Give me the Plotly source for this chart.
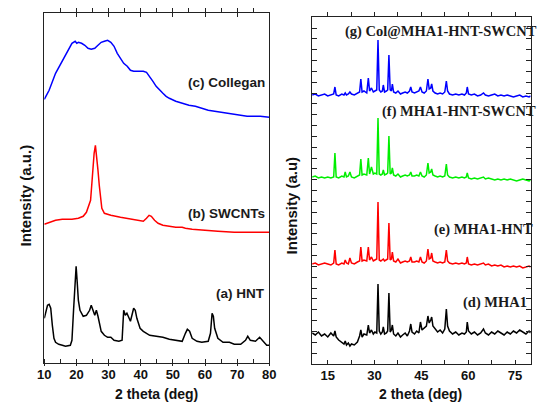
import plotly.graph_objects as go

W, H = 538, 402

# ---------------- Left panel data (2 theta in deg, intensity in a.u. with stacking offsets) ----------------
hnt_x = [10.0, 10.5, 11.0, 11.5, 12.0, 12.5, 13.0, 13.5, 14.5, 15.6, 16.6, 18.1, 18.6, 19.1, 19.6, 19.9, 20.2,
         20.6, 21.1, 22.1, 23.1, 24.1, 24.6, 25.2, 25.7, 26.2, 26.7, 27.7, 28.7, 29.7, 30.7, 31.7, 33.2, 34.2,
         34.7, 35.2, 35.7, 36.8, 37.8, 38.3, 38.8, 39.8, 40.8, 42.8, 44.8, 46.9, 48.9, 50.9, 52.9, 53.9, 54.5,
         55.2, 56.0, 57.5, 59.0, 61.0, 61.7, 62.2, 62.6, 63.0, 64.0, 65.6, 67.6, 69.1, 71.1, 72.6, 73.3, 74.1,
         75.7, 77.0, 78.2, 79.2, 80.0]
hnt_y = [45, 52, 58, 59, 55, 38, 25, 21, 19, 18, 17, 18, 23, 53, 87, 97, 83,
         63, 53, 47, 48, 53, 58, 53, 48, 53, 47, 32, 28, 26, 26, 23, 22, 23,
         53, 48, 50, 42, 55, 53, 45, 35, 32, 28, 27, 26, 24, 23, 22, 30, 34,
         32, 25, 22, 21, 22, 30, 50, 47, 35, 25, 21, 21, 19, 19, 23, 27, 23,
         22, 26, 22, 18, 18]

swcnt_x = [10.0, 11.5, 13.5, 15.6, 18.6, 20.6, 22.1, 23.1, 23.8, 24.4, 24.8, 25.2, 25.5, 25.9, 26.3, 26.7, 27.1,
           27.5, 27.9, 28.7, 30.7, 33.7, 36.8, 38.8, 40.8, 41.8, 42.6, 43.3, 44.3, 45.4, 46.9, 48.9, 50.9, 52.9,
           53.9, 56.0, 59.0, 64.0, 69.1, 74.1, 78.2, 80.0]
swcnt_y = [139, 141, 143, 144, 144, 145, 147, 151, 157, 163, 180, 198, 210, 218, 208, 193, 178,
           163, 155, 150, 148, 146, 144, 143, 142, 145, 148, 147, 143, 140, 138, 137, 136, 136,
           135, 134, 133, 132, 131, 131, 131, 131]

col_x = [10.0, 11.5, 13.5, 15.6, 17.6, 18.6, 19.6, 20.1, 20.6, 21.6, 22.6, 23.6, 24.6, 25.7, 26.7, 27.7, 28.7,
         29.7, 30.7, 31.7, 32.7, 33.7, 34.7, 35.8, 36.8, 37.8, 38.8, 40.8, 41.8, 42.8, 43.8, 44.8, 45.9, 46.9,
         47.9, 48.9, 50.9, 52.9, 55.0, 57.0, 59.0, 61.0, 63.0, 65.0, 67.1, 69.1, 71.1, 73.1, 75.2, 77.2, 80.0]
col_y = [264, 273, 290, 302, 313, 320, 322, 320, 321, 320, 318, 315, 314, 315, 318, 321, 322,
         323, 321, 317, 310, 305, 300, 297, 293, 292, 292, 292, 291, 287, 282, 277, 273, 270,
         267, 265, 262, 260, 258, 257, 255, 253, 252, 251, 250, 249, 248, 247, 247, 247, 246]

left_labels = ["(c) Collegan", "(b) SWCNTs", "(a) HNT"]

# ---------------- Right panel data ----------------
r_x = [10, 11, 12, 13, 14, 15, 16, 16.9, 17.3, 17.7, 18.5, 19.5, 20.2, 20.6, 21.0, 21.6, 22.1, 22.6, 23.5, 24.5,
       25.2, 25.6, 26.0, 26.6, 27.5, 28.0, 28.4, 29.0, 29.6, 30.1, 30.7, 31.1, 31.5, 32.0, 32.5, 32.8, 33.2, 33.8,
       34.2, 34.6, 35.0, 35.4, 35.7, 36.1, 36.8, 37.5, 38.3, 39.0, 39.8, 40.5, 41.2, 41.6, 42.0, 42.8, 43.5, 44.2,
       44.7, 45.2, 45.9, 46.6, 47.1, 47.5, 48.0, 48.3, 48.7, 49.4, 50.2, 51.0, 51.8, 52.5, 53.0, 53.4, 54.0, 55.0,
       56.0, 57.0, 58.0, 58.8, 59.4, 59.7, 60.1, 61.0, 62.0, 63.0, 64.0, 64.9, 65.5, 66.5, 67.5, 68.5, 69.5, 70.5,
       71.5, 72.5, 73.5, 74.5, 75.5, 76.5, 77.5, 78.5, 79.5, 80]

g_y = [269, 270, 268, 269, 270, 268, 269, 270, 277, 269, 268, 270, 269, 271, 269, 270, 272, 270, 269, 271,
       272, 285, 272, 273, 271, 286, 273, 276, 272, 273, 274, 324, 274, 272, 273, 279, 272, 273,
       274, 309, 274, 273, 280, 272, 271, 273, 270, 271, 272, 271, 273, 277, 272, 271, 272, 273,
       277, 272, 271, 273, 285, 275, 276, 280, 273, 271, 270, 271, 270, 272, 283, 273, 270, 269,
       270, 269, 270, 269, 271, 277, 270, 269, 270, 268, 269, 271, 269, 268, 269, 270, 268, 269,
       268, 269, 268, 267, 268, 269, 267, 268, 267, 268]

f_y = [187, 188, 186, 187, 186, 187, 186, 187, 211, 187, 186, 188, 187, 192, 187, 188, 192, 187, 186, 188,
       189, 205, 189, 190, 189, 206, 190, 197, 190, 191, 190, 246, 190, 189, 190, 194, 189, 190,
       191, 228, 190, 191, 196, 189, 188, 190, 187, 188, 189, 188, 189, 192, 188, 188, 189, 188,
       192, 188, 187, 189, 201, 191, 192, 195, 189, 188, 187, 188, 187, 188, 200, 189, 187, 186,
       187, 186, 187, 186, 187, 191, 186, 185, 186, 185, 186, 187, 185, 186, 185, 184, 185, 184,
       185, 184, 185, 184, 183, 184, 185, 184, 183, 184]

e_y = [100, 101, 99, 100, 101, 100, 99, 101, 114, 100, 99, 101, 100, 104, 101, 100, 106, 101, 100, 102,
       103, 117, 103, 104, 103, 117, 104, 107, 103, 104, 105, 162, 104, 103, 104, 105, 103, 104,
       105, 141, 104, 105, 112, 103, 102, 105, 101, 102, 103, 102, 103, 107, 102, 102, 103, 102,
       107, 102, 101, 103, 115, 105, 106, 111, 103, 102, 101, 102, 101, 102, 114, 103, 101, 100,
       101, 100, 101, 100, 101, 107, 100, 99, 100, 99, 100, 101, 99, 100, 98, 99, 98, 99,
       97, 98, 97, 98, 97, 98, 96, 97, 98, 97]

d_y = [31, 29, 32, 28, 30, 27, 31, 28, 33, 27, 24, 22, 20, 23, 19, 21, 18, 20, 19, 22,
       28, 34, 27, 30, 29, 39, 31, 34, 30, 32, 31, 80, 33, 30, 32, 37, 30, 31,
       33, 71, 32, 34, 39, 30, 28, 31, 27, 29, 31, 28, 33, 40, 32, 30, 33, 31,
       42, 34, 36, 38, 48, 41, 44, 47, 38, 35, 32, 34, 31, 35, 55, 38, 33, 30,
       32, 29, 31, 30, 32, 42, 33, 30, 32, 29, 31, 35, 31, 29, 32, 30, 33, 31,
       29, 32, 30, 33, 31, 34, 32, 30, 33, 31]

right_labels = ["(g) Col@MHA1-HNT-SWCNT", "(f) MHA1-HNT-SWCNT", "(e) MHA1-HNT", "(d) MHA1"]


def px(x):
    return x / W


def py(y):
    return 1 - y / H


fig = go.Figure()

lw = 1.5
fig.add_trace(go.Scatter(x=hnt_x, y=hnt_y, mode="lines", line=dict(color="#000000", width=lw), xaxis="x", yaxis="y"))
fig.add_trace(go.Scatter(x=swcnt_x, y=swcnt_y, mode="lines", line=dict(color="#ff0000", width=lw), xaxis="x", yaxis="y"))
fig.add_trace(go.Scatter(x=col_x, y=col_y, mode="lines", line=dict(color="#0000ff", width=lw), xaxis="x", yaxis="y"))

fig.add_trace(go.Scatter(x=r_x, y=d_y, mode="lines", line=dict(color="#000000", width=lw), xaxis="x2", yaxis="y2"))
fig.add_trace(go.Scatter(x=r_x, y=e_y, mode="lines", line=dict(color="#ff0000", width=lw), xaxis="x2", yaxis="y2"))
fig.add_trace(go.Scatter(x=r_x, y=f_y, mode="lines", line=dict(color="#00ee00", width=lw), xaxis="x2", yaxis="y2"))
fig.add_trace(go.Scatter(x=r_x, y=g_y, mode="lines", line=dict(color="#0000ff", width=lw), xaxis="x2", yaxis="y2"))

# empty traces so that the top axes get drawn
fig.add_trace(go.Scatter(x=[None], y=[None], xaxis="x3", yaxis="y", hoverinfo="skip"))
fig.add_trace(go.Scatter(x=[None], y=[None], xaxis="x4", yaxis="y2", hoverinfo="skip"))

axc = "#222222"
tf = dict(family="Liberation Sans, Arial", size=13, color="#111111", weight="bold")

left_dom_x = [px(38.3), px(269.3)]
left_dom_y = [py(363.3), py(13.3)]
right_dom_x = [px(313.3), px(537.6)]
right_dom_y = [py(364.0), py(17.3)]

fig.update_layout(
    width=W, height=H, margin=dict(l=0, r=0, t=0, b=0),
    paper_bgcolor="white", plot_bgcolor="white", showlegend=False,
    xaxis=dict(domain=left_dom_x, anchor="y", range=[10, 80], tick0=10, dtick=10,
               ticks="outside", ticklen=2, tickcolor=axc, tickwidth=1, ticklabelstandoff=-3,
               minor=dict(dtick=5, tick0=10, ticks="inside", ticklen=4, tickcolor=axc),
               showline=True, linecolor=axc, linewidth=1.2, showgrid=False, zeroline=False,
               tickfont=tf),
    yaxis=dict(domain=left_dom_y, anchor="x", range=[0, 350], showline=True, mirror=True,
               linecolor=axc, linewidth=1.2, ticks="", showticklabels=False, showgrid=False, zeroline=False),
    xaxis3=dict(overlaying="x", side="top", anchor="y", range=[10, 80], tick0=10, dtick=10,
                ticks="inside", ticklen=4, tickcolor=axc,
                minor=dict(dtick=5, tick0=10, ticks="outside", ticklen=4, tickcolor=axc),
                showline=True, linecolor=axc, linewidth=1.2, showticklabels=False, showgrid=False, zeroline=False),
    xaxis2=dict(domain=right_dom_x, anchor="y2", range=[10, 80], tick0=15, dtick=15,
                ticks="inside", ticklen=4, tickcolor=axc, ticklabelstandoff=-1,
                minor=dict(dtick=7.5, tick0=15, ticks="inside", ticklen=4, tickcolor=axc),
                showline=True, linecolor=axc, linewidth=1.2, showgrid=False, zeroline=False, tickfont=tf),
    yaxis2=dict(domain=right_dom_y, anchor="x2", range=[0, 346.7], tick0=0, dtick=346.7 / 32,
                ticks="inside", ticklen=5, tickcolor=axc, showline=True, mirror="ticks",
                linecolor=axc, linewidth=1.2, showticklabels=False, showgrid=False, zeroline=False),
    xaxis4=dict(overlaying="x2", side="top", anchor="y2", range=[10, 80], tick0=15, dtick=7.5,
                ticks="outside", ticklen=4, tickcolor=axc,
                showline=True, linecolor=axc, linewidth=1.2, showticklabels=False, showgrid=False, zeroline=False),
)

sans_lbl = dict(family="Liberation Sans, Arial", size=13.5, color="#1a1a1a", weight="bold")
serif_lbl = dict(family="Liberation Serif, Times New Roman", size=14.5, color="#1a1a1a", weight="bold")
title_font = dict(family="Liberation Sans, Arial", size=15, color="#111111", weight="bold")
xtitle_font = dict(family="Liberation Sans, Arial", size=14, color="#111111", weight="bold")

ann = []
# left panel labels (right aligned)
for txt, yy in zip(left_labels, [82.5, 213.5, 293.5]):
    ann.append(dict(x=px(267), y=py(yy), xref="paper", yref="paper", text=txt, showarrow=False,
                    xanchor="right", yanchor="middle", font=sans_lbl))
# right panel labels (left aligned)
for txt, xx, yy in zip(right_labels, [345, 383.3, 436.7, 465.7], [31, 111.5, 229, 302.5]):
    ann.append(dict(x=px(xx), y=py(yy), xref="paper", yref="paper", text=txt, showarrow=False,
                    xanchor="left", yanchor="middle", font=serif_lbl))
# axis titles
ann.append(dict(x=px(154), y=-0.004, xref="paper", yref="paper", text="2 theta (deg)", showarrow=False,
                xanchor="center", yanchor="bottom", font=xtitle_font))
ann.append(dict(x=px(425), y=-0.004, xref="paper", yref="paper", text="2 theta (deg)", showarrow=False,
                xanchor="center", yanchor="bottom", font=xtitle_font))
ann.append(dict(x=px(18), y=py(196), xref="paper", yref="paper", text="Intensity (a.u.)", showarrow=False,
                textangle=-90, xanchor="center", yanchor="middle", font=title_font))
ann.append(dict(x=px(292.5), y=py(205.5), xref="paper", yref="paper", text="Intensity (a.u)", showarrow=False,
                textangle=-90, xanchor="center", yanchor="middle", font=title_font))
fig.update_layout(annotations=ann)

fig.write_html("out.html")
